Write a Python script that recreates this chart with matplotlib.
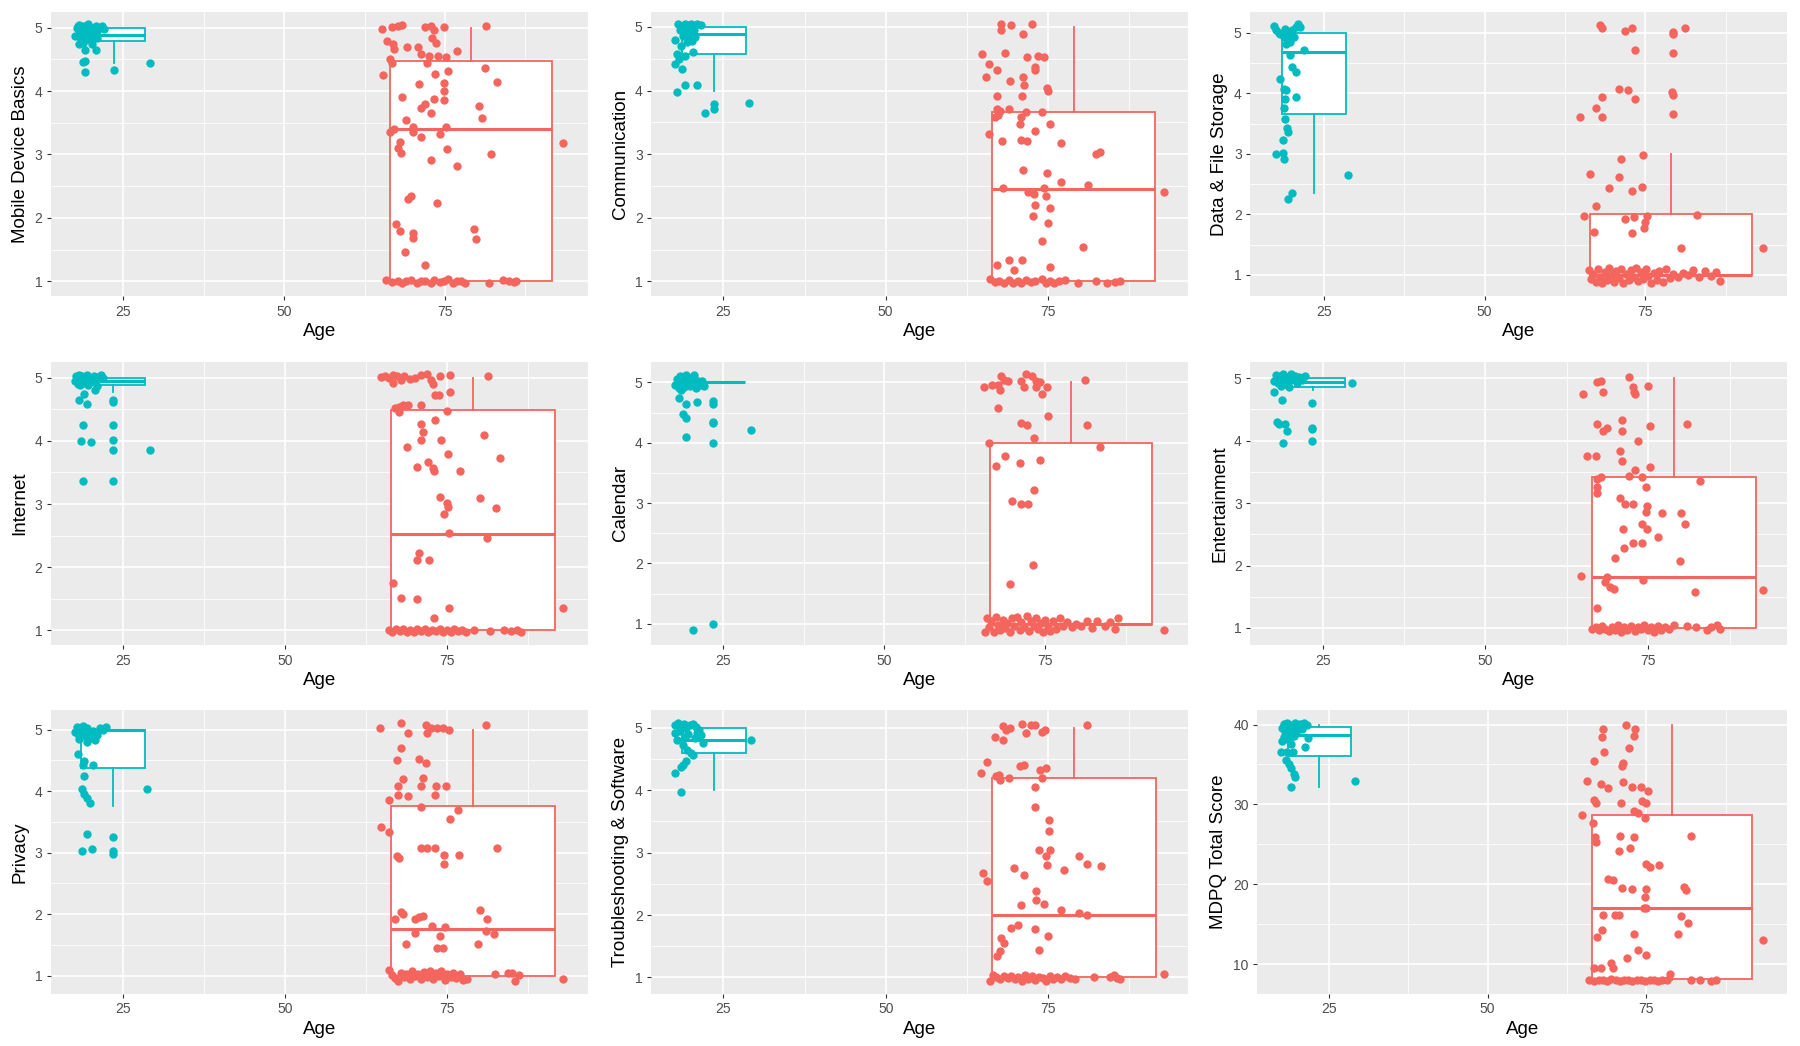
import matplotlib.pyplot as plt
from matplotlib.ticker import MultipleLocator

plt.rcParams['font.family'] = ['Liberation Sans', 'DejaVu Sans']

TEAL = '#00BCC0'
RED = '#F4655E'

# age span of each group (raw ages, before jitter) -> box position / width like ggplot
young_ages = (18, 29)
old_ages = (65, 93)

# box stats: whislo, q1, median, q3, whishi
mobile_box_young = [4.45, 4.79, 4.88, 5.0, 5.0]
mobile_box_old = [1.0, 1.0, 3.40, 4.47, 5.0]
comm_box_young = [4.0, 4.58, 4.89, 5.0, 5.0]
comm_box_old = [1.0, 1.0, 2.45, 3.66, 5.0]
data_box_young = [2.35, 3.66, 4.68, 5.0, 5.0]
data_box_old = [1.0, 1.0, 1.0, 2.0, 3.0]
internet_box_young = [4.78, 4.88, 4.95, 5.0, 5.0]
internet_box_old = [1.0, 1.0, 2.52, 4.49, 5.0]
calendar_box_young = [5.0, 5.0, 5.0, 5.0, 5.0]
calendar_box_old = [1.0, 1.0, 1.0, 4.0, 5.0]
entertain_box_young = [4.81, 4.86, 4.94, 5.0, 5.0]
entertain_box_old = [1.0, 1.0, 1.81, 3.41, 5.0]
privacy_box_young = [3.76, 4.38, 5.0, 5.0, 5.0]
privacy_box_old = [1.0, 1.0, 1.76, 3.76, 5.0]
trouble_box_young = [4.0, 4.59, 4.80, 5.0, 5.0]
trouble_box_old = [1.0, 1.0, 2.0, 4.19, 5.0]
mdpq_box_young = [32.2, 36.0, 38.7, 39.7, 40.0]
mdpq_box_old = [8.0, 8.2, 17.0, 28.7, 40.0]

# jittered points (age, score)
mobile_young = [
    (17.5, 4.87), (17.8, 5.00), (18.1, 5.04), (18.4, 4.95), (18.7, 5.03), (19.0, 4.90), (19.3, 4.97),
    (19.6, 5.05), (19.9, 4.92), (20.2, 5.00), (20.4, 4.87), (20.7, 5.03), (21.0, 4.95), (21.5, 5.01),
    (21.7, 5.03), (18.1, 4.74), (18.7, 4.76), (19.1, 4.64), (20.7, 4.64), (20.2, 4.74), (18.4, 4.80),
    (19.6, 4.82), (18.8, 4.46), (19.1, 4.47), (19.0, 4.30), (23.5, 4.33), (29.2, 4.44), (18.1, 4.90),
    (19.7, 4.90), (20.9, 4.84), (22.0, 4.98), (18.0, 5.02), (19.4, 4.99), (20.5, 4.96)]
mobile_old = [
    (65.2, 4.98), (66.7, 5.01), (67.7, 5.03), (68.3, 5.04), (71.9, 5.01), (72.8, 5.03), (73.3, 4.97),
    (74.8, 5.01), (81.3, 5.03), (66.0, 4.79), (67.0, 4.74), (67.1, 4.66), (69.1, 4.69), (70.8, 4.69),
    (71.3, 4.58), (72.5, 4.55), (73.0, 4.84), (73.6, 4.76), (75.1, 4.53), (76.9, 4.63), (66.5, 4.50),
    (66.7, 4.45), (72.2, 4.45), (73.9, 4.55), (75.4, 4.32), (65.4, 4.25), (73.5, 4.27), (81.2, 4.37),
    (83.1, 4.14), (68.3, 3.91), (71.0, 4.11), (71.3, 3.74), (71.9, 3.79), (72.8, 3.65), (73.3, 3.87),
    (74.8, 4.13), (74.8, 4.00), (74.8, 3.86), (80.3, 3.76), (80.8, 3.58), (69.0, 3.55), (66.5, 3.36),
    (67.1, 3.40), (70.1, 3.43), (70.1, 3.35), (71.2, 3.27), (74.2, 3.32), (75.1, 3.44), (68.0, 3.19),
    (67.7, 3.11), (68.2, 3.02), (72.9, 2.91), (75.3, 3.09), (82.2, 3.01), (76.9, 2.82), (93.4, 3.18),
    (69.2, 2.30), (69.8, 2.35), (73.8, 2.24), (67.4, 1.90), (68.0, 1.80), (70.0, 1.76), (70.1, 1.68),
    (68.8, 1.46), (71.9, 1.25), (79.5, 1.82), (79.8, 1.66),
    (65.8, 1.02), (66.7, 0.99), (67.7, 1.01), (68.3, 0.97), (68.9, 1.00), (69.8, 1.02), (70.7, 0.98),
    (71.3, 1.00), (71.9, 1.01), (72.8, 0.97), (73.3, 1.02), (74.2, 0.99), (74.8, 1.00), (75.4, 1.03),
    (76.3, 0.98), (76.9, 1.00), (77.5, 1.01), (78.1, 0.97), (81.9, 0.98), (84.0, 1.02), (84.9, 1.00),
    (85.8, 0.99), (86.1, 1.01)]

comm_young = [
    (18.0, 5.04), (18.5, 5.02), (19.0, 5.04), (19.5, 5.03), (20.0, 5.04), (20.5, 5.02), (21.0, 5.04),
    (21.6, 5.03), (18.3, 4.95), (19.2, 4.93), (19.8, 4.90), (20.4, 4.95), (18.8, 4.86), (19.6, 4.82),
    (20.2, 4.78), (17.6, 4.79), (20.6, 4.84), (19.9, 4.97), (18.4, 4.70), (19.4, 4.76), (17.9, 4.58),
    (17.6, 4.42), (18.2, 4.50), (18.6, 4.34), (19.1, 4.55), (20.3, 4.61), (17.9, 3.97), (19.0, 4.09),
    (20.9, 4.08), (22.1, 3.64), (23.5, 3.71), (23.5, 3.79), (29.0, 3.81)]
comm_old = [
    (67.8, 5.04), (67.8, 4.95), (69.4, 5.03), (71.2, 4.89), (72.5, 5.04), (64.8, 4.57), (66.0, 4.42),
    (67.2, 4.33), (68.4, 4.59), (65.5, 4.22), (69.2, 4.15), (71.2, 4.22), (71.4, 4.09), (71.8, 4.53),
    (73.0, 4.32), (73.0, 4.37), (73.5, 4.55), (74.4, 4.53), (74.9, 4.04), (75.1, 3.99), (67.2, 3.92),
    (71.0, 3.92), (67.1, 3.71), (67.6, 3.68), (69.0, 3.71), (66.8, 3.58), (67.4, 3.61), (70.9, 3.58),
    (71.6, 3.66), (74.1, 3.66), (70.7, 3.47), (75.3, 3.47), (65.9, 3.32), (73.1, 3.36), (67.9, 3.20),
    (70.9, 3.22), (71.8, 3.20), (77.1, 3.18), (82.4, 3.00), (83.1, 3.04), (71.2, 2.75), (74.9, 2.70),
    (77.1, 2.56), (68.1, 2.47), (71.9, 2.41), (72.9, 2.38), (74.4, 2.47), (74.7, 2.34), (81.2, 2.52),
    (92.9, 2.41), (73.1, 2.20), (75.3, 2.15), (72.8, 2.03), (75.1, 1.91), (74.1, 1.64), (80.4, 1.54),
    (67.1, 1.25), (69.0, 1.34), (69.8, 1.18), (71.1, 1.34), (75.3, 1.22),
    (66.1, 1.03), (66.8, 0.99), (67.5, 1.01), (68.2, 0.97), (69.0, 1.02), (69.7, 0.98), (70.4, 1.00),
    (70.9, 0.97), (71.6, 1.02), (72.4, 0.99), (73.1, 1.00), (74.1, 1.03), (74.7, 0.98), (75.3, 1.01),
    (75.9, 0.97), (76.8, 1.00), (77.6, 1.02), (79.7, 0.98), (82.4, 1.00), (84.1, 0.97), (85.3, 0.99),
    (86.2, 1.00)]

data_young = [
    (17.3, 5.12), (17.6, 5.04), (18.2, 4.98), (18.8, 4.93), (19.4, 4.96), (20.0, 5.04), (20.6, 5.09),
    (20.9, 5.14), (20.3, 4.93), (19.7, 4.85), (19.1, 4.82), (21.9, 4.72), (19.7, 4.63), (20.0, 4.43),
    (20.6, 4.35), (18.2, 4.23), (18.8, 4.08), (19.1, 4.05), (20.7, 3.94), (19.0, 3.91), (18.8, 3.75),
    (19.0, 3.58), (19.2, 3.42), (19.4, 3.36), (18.6, 3.23), (17.6, 2.99), (18.6, 3.02), (18.8, 2.92),
    (20.0, 2.36), (19.4, 2.25), (28.8, 2.65), (19.0, 5.06), (21.3, 5.10), (18.0, 5.00)]
data_old = [
    (67.9, 5.13), (68.3, 5.08), (71.9, 5.03), (73.0, 5.08), (79.3, 5.01), (79.3, 4.98), (81.2, 5.08),
    (73.4, 4.72), (79.3, 4.67), (70.9, 4.08), (72.3, 4.05), (68.3, 3.94), (73.4, 3.90), (79.1, 4.02),
    (79.3, 3.98), (64.8, 3.61), (67.4, 3.76), (68.2, 3.61), (79.3, 3.66), (74.7, 2.98), (71.2, 2.92),
    (66.4, 2.66), (70.9, 2.62), (69.3, 2.43), (72.9, 2.38), (74.5, 2.46), (67.3, 2.13), (65.4, 1.97),
    (71.9, 1.93), (73.2, 1.96), (74.9, 1.88), (75.3, 1.97), (83.0, 1.99), (67.0, 1.71), (73.0, 1.69),
    (74.8, 1.77), (80.6, 1.44), (93.3, 1.45),
    (66.2, 1.08), (66.5, 0.93), (66.9, 1.02), (67.3, 0.88), (67.6, 1.10), (68.0, 0.97), (68.3, 0.86),
    (68.7, 1.05), (69.0, 0.92), (69.4, 1.12), (69.8, 0.99), (70.2, 0.88), (70.5, 1.06), (70.9, 0.94),
    (71.2, 1.10), (71.6, 0.86), (72.0, 1.01), (72.4, 0.92), (72.8, 1.08), (73.2, 0.97), (73.5, 1.12),
    (73.9, 0.89), (74.3, 1.04), (74.7, 0.93), (75.1, 1.09), (75.5, 0.98), (75.9, 0.87), (76.3, 1.03),
    (76.8, 0.91), (77.2, 1.06), (77.7, 0.88), (78.2, 1.10), (78.8, 0.95), (79.3, 1.02), (80.1, 0.96),
    (80.8, 1.03), (81.7, 0.99), (82.5, 1.08), (83.4, 0.97), (84.3, 1.06), (85.2, 0.98), (86.0, 1.04),
    (86.7, 0.90)]

internet_young = [
    (17.6, 4.95), (17.8, 5.02), (18.0, 4.90), (18.2, 5.04), (18.5, 4.97), (18.7, 5.03), (18.9, 4.92),
    (19.1, 5.01), (19.3, 4.96), (19.5, 5.04), (19.8, 4.93), (20.0, 5.00), (20.3, 4.97), (20.6, 5.03),
    (20.9, 4.94), (21.2, 5.01), (21.6, 5.04), (22.0, 4.99), (18.4, 4.88), (19.6, 4.89), (19.0, 4.74),
    (20.7, 4.81), (21.0, 4.86), (18.2, 4.64), (19.4, 4.59), (23.5, 4.64), (23.5, 4.62), (18.8, 4.25),
    (23.5, 4.25), (18.6, 3.99), (20.1, 3.98), (23.5, 4.02), (23.5, 3.86), (29.2, 3.85), (18.9, 3.37),
    (23.5, 3.37)]
internet_old = [
    (64.8, 5.01), (65.4, 5.03), (66.0, 4.99), (66.6, 5.04), (67.2, 5.02), (67.8, 4.97), (68.4, 5.03),
    (69.3, 4.98), (70.1, 5.00), (71.0, 5.04), (71.9, 5.05), (72.5, 4.96), (73.9, 5.03), (75.4, 5.04),
    (81.3, 5.03), (66.6, 4.92), (72.8, 4.90), (73.1, 4.73), (73.7, 4.73), (75.4, 4.78), (66.9, 4.52),
    (67.5, 4.54), (68.1, 4.57), (68.9, 4.57), (70.9, 4.57), (67.5, 4.46), (75.0, 4.47), (73.1, 4.33),
    (70.9, 4.26), (71.3, 4.14), (70.9, 4.02), (74.1, 4.02), (80.7, 4.09), (68.8, 3.91), (75.1, 3.79),
    (83.1, 3.73), (70.3, 3.59), (72.1, 3.66), (72.8, 3.57), (72.9, 3.53), (76.9, 3.53), (73.9, 3.11),
    (75.0, 3.02), (75.1, 2.96), (74.5, 2.84), (80.1, 3.09), (82.5, 2.93), (75.2, 2.54), (81.1, 2.46),
    (70.7, 2.23), (70.3, 2.11), (72.2, 2.11), (66.6, 1.75), (67.8, 1.52), (70.4, 1.50), (75.2, 1.36),
    (72.9, 1.20), (92.9, 1.36),
    (66.0, 1.01), (66.5, 0.97), (67.1, 1.02), (67.7, 0.99), (68.2, 1.03), (68.8, 0.97), (69.3, 1.00),
    (69.9, 0.98), (70.4, 1.02), (71.0, 0.99), (71.5, 1.03), (72.1, 0.97), (72.7, 1.01), (73.3, 0.99),
    (73.9, 1.02), (74.4, 0.97), (75.0, 1.01), (75.5, 0.98), (76.1, 1.02), (76.7, 0.99), (77.3, 1.01),
    (77.9, 0.98), (79.1, 1.00), (81.6, 0.99), (83.8, 1.01), (84.9, 0.99), (85.7, 1.00), (86.3, 0.98)]

calendar_young = [
    (17.6, 4.95), (17.9, 5.05), (18.1, 4.90), (18.3, 5.10), (18.6, 4.98), (18.8, 5.06), (19.0, 4.92),
    (19.3, 5.12), (19.5, 5.00), (19.8, 4.94), (20.0, 5.08), (20.3, 4.97), (20.5, 5.12), (20.8, 4.91),
    (21.1, 5.03), (21.4, 4.96), (21.8, 5.02), (22.1, 4.94), (18.4, 4.88), (19.6, 5.04), (18.2, 4.74),
    (19.2, 4.64), (20.9, 4.68), (18.7, 4.47), (19.2, 4.41), (23.5, 4.69), (23.5, 4.64), (23.5, 4.35),
    (23.5, 4.32), (19.2, 4.10), (23.5, 4.00), (29.3, 4.21), (23.5, 1.00), (20.3, 0.90)]
calendar_old = [
    (65.5, 4.92), (66.8, 4.95), (67.7, 4.96), (68.2, 5.11), (68.6, 5.04), (69.2, 5.03), (67.9, 4.88),
    (71.2, 5.03), (72.0, 5.13), (73.0, 5.10), (73.5, 5.02), (74.2, 5.01), (71.7, 4.92), (73.5, 4.92),
    (75.3, 4.92), (74.5, 4.80), (81.2, 5.04), (67.6, 4.57), (75.4, 4.44), (71.3, 4.32), (72.2, 4.29),
    (81.4, 4.30), (73.3, 4.07), (66.3, 4.00), (83.5, 3.93), (68.8, 3.78), (71.0, 3.66), (74.1, 3.71),
    (67.3, 3.61), (73.2, 3.21), (69.8, 3.04), (71.2, 2.98), (72.3, 2.98), (73.1, 1.98), (69.5, 1.66),
    (93.4, 0.90),
    (65.6, 0.87), (65.9, 1.10), (66.3, 0.95), (66.6, 1.04), (67.0, 0.86), (67.3, 1.12), (67.7, 0.98),
    (68.0, 0.89), (68.4, 1.06), (68.8, 0.93), (69.1, 1.02), (69.5, 0.86), (69.9, 1.09), (70.2, 0.96),
    (70.6, 1.11), (71.0, 0.90), (71.3, 1.03), (71.7, 0.94), (72.1, 1.13), (72.4, 0.88), (72.8, 1.05),
    (73.2, 0.97), (73.5, 1.10), (73.9, 0.91), (74.3, 1.02), (74.7, 0.86), (75.0, 1.07), (75.4, 0.95),
    (75.8, 0.88), (76.2, 1.04), (76.7, 0.92), (77.3, 1.09), (77.8, 0.97), (78.4, 1.03), (79.1, 0.94),
    (79.8, 1.00), (80.6, 0.96), (81.5, 1.04), (82.3, 0.93), (83.0, 1.05), (84.2, 0.97), (85.1, 1.03),
    (85.8, 0.91), (86.3, 1.10)]

entertain_young = [
    (17.6, 4.95), (17.9, 5.05), (18.1, 4.92), (18.4, 5.03), (18.7, 4.97), (18.9, 5.06), (19.2, 4.91),
    (19.5, 5.02), (19.8, 4.95), (20.1, 5.06), (20.4, 4.98), (20.7, 5.04), (21.0, 4.93), (21.4, 5.02),
    (21.8, 4.97), (22.3, 5.03), (18.6, 4.87), (19.9, 4.86), (17.6, 4.78), (18.7, 4.65), (29.5, 4.92),
    (23.4, 4.60), (18.0, 4.30), (19.3, 4.27), (19.5, 4.15), (18.9, 3.96), (23.4, 4.21), (23.4, 4.18),
    (23.4, 4.00), (18.3, 4.26)]
entertain_old = [
    (72.1, 5.02), (67.1, 4.94), (67.7, 4.95), (72.7, 4.86), (75.0, 4.87), (65.0, 4.75), (68.0, 4.78),
    (72.8, 4.78), (73.0, 4.74), (67.1, 4.26), (68.0, 4.16), (68.7, 4.20), (70.9, 4.33), (70.9, 4.15),
    (75.3, 4.24), (81.0, 4.26), (73.4, 3.99), (70.7, 3.84), (65.6, 3.75), (66.9, 3.75), (70.9, 3.67),
    (75.2, 3.58), (67.1, 3.39), (67.7, 3.41), (72.1, 3.44), (73.0, 3.53), (74.1, 3.41), (82.9, 3.36),
    (67.1, 3.25), (67.1, 3.16), (74.7, 3.25), (70.7, 3.08), (71.5, 2.98), (72.7, 2.98), (74.8, 2.96),
    (74.7, 2.85), (77.1, 2.84), (80.1, 2.84), (80.7, 2.67), (74.0, 2.67), (74.8, 2.59), (71.1, 2.58),
    (76.5, 2.45), (72.7, 2.36), (74.1, 2.36), (71.2, 2.28), (69.9, 2.12), (79.9, 2.08), (64.6, 1.84),
    (68.7, 1.82), (68.3, 1.73), (69.1, 1.65), (69.7, 1.62), (74.2, 1.77), (82.2, 1.57), (92.6, 1.61),
    (67.1, 1.32),
    (66.4, 0.98), (66.9, 1.02), (67.4, 0.96), (67.9, 1.03), (68.4, 0.99), (68.9, 0.95), (69.4, 1.02),
    (69.9, 0.97), (70.4, 1.04), (70.8, 0.94), (71.3, 1.01), (71.8, 0.97), (72.3, 1.03), (72.9, 0.95),
    (73.4, 1.02), (73.9, 0.98), (74.4, 1.04), (74.9, 0.96), (75.4, 1.01), (75.9, 0.93), (76.5, 1.03),
    (77.0, 0.97), (77.6, 1.02), (78.2, 0.99), (79.0, 1.04), (81.0, 1.03), (82.3, 1.02), (84.0, 0.97),
    (84.7, 1.01), (85.6, 1.04), (86.0, 0.98)]

privacy_young = [
    (17.6, 4.97), (17.9, 5.04), (18.1, 4.93), (18.4, 5.02), (18.7, 4.96), (18.9, 5.06), (19.2, 4.90),
    (19.5, 5.03), (19.8, 4.95), (20.1, 4.86), (20.4, 4.98), (20.7, 4.83), (21.0, 4.92), (21.5, 5.03),
    (22.0, 4.99), (22.4, 5.05), (18.3, 4.85), (19.4, 4.80), (18.0, 4.61), (19.0, 4.49), (18.8, 4.43),
    (20.4, 4.43), (19.0, 4.24), (18.7, 4.03), (19.0, 3.95), (19.4, 3.89), (19.9, 3.81), (28.7, 4.03),
    (19.4, 3.30), (23.5, 3.25), (18.7, 3.02), (20.2, 3.06), (23.5, 3.02), (23.5, 2.98)]
privacy_old = [
    (64.7, 5.03), (67.8, 5.11), (69.0, 4.95), (71.7, 5.08), (71.9, 4.95), (72.5, 5.03), (73.4, 5.03),
    (74.3, 5.02), (75.2, 5.00), (81.0, 5.08), (67.8, 4.71), (67.2, 4.51), (70.7, 4.53), (71.7, 4.46),
    (68.1, 4.19), (67.4, 4.08), (70.9, 4.08), (71.3, 4.21), (73.2, 4.08), (74.8, 4.08), (67.4, 3.94),
    (69.0, 3.92), (73.1, 3.94), (66.0, 3.85), (71.0, 3.74), (76.6, 3.69), (75.4, 3.54), (64.8, 3.42),
    (66.0, 3.34), (71.0, 3.08), (71.9, 3.08), (73.1, 3.08), (67.2, 2.95), (67.5, 2.91), (74.5, 2.96),
    (76.8, 2.96), (74.5, 2.81), (82.7, 3.08), (67.8, 2.04), (68.2, 2.01), (66.9, 1.92), (70.1, 1.92),
    (70.7, 1.95), (71.3, 1.97), (80.1, 2.06), (81.1, 1.92), (72.6, 1.81), (74.6, 1.79), (70.1, 1.70),
    (73.9, 1.65), (81.0, 1.73), (82.2, 1.68), (68.7, 1.51), (73.4, 1.45), (74.4, 1.45), (79.8, 1.51),
    (92.9, 0.95),
    (66.0, 1.09), (66.5, 1.01), (67.0, 0.96), (67.4, 0.92), (67.8, 1.04), (68.3, 0.97), (68.7, 1.02),
    (69.2, 0.95), (69.6, 1.07), (70.1, 0.99), (70.5, 1.03), (71.0, 0.94), (71.4, 1.06), (71.9, 0.98),
    (72.3, 1.08), (72.8, 0.95), (73.2, 1.04), (73.7, 0.99), (74.1, 1.07), (74.6, 0.93), (75.0, 1.03),
    (75.5, 0.97), (75.9, 1.05), (76.4, 0.96), (76.9, 1.02), (77.4, 0.93), (78.0, 0.94), (82.4, 1.02),
    (84.3, 1.04), (85.0, 1.05), (85.5, 0.91), (86.0, 1.01)]

trouble_young = [
    (17.6, 5.04), (18.0, 5.08), (18.5, 5.02), (18.9, 5.06), (19.3, 5.00), (19.8, 5.05), (20.3, 5.07),
    (20.8, 5.01), (21.2, 4.96), (17.6, 4.92), (17.9, 4.81), (18.8, 4.73), (19.4, 4.65), (20.0, 4.60),
    (20.3, 4.57), (18.8, 4.41), (19.2, 4.47), (18.5, 4.37), (17.6, 4.28), (18.5, 3.98), (21.6, 4.89),
    (21.8, 4.76), (29.2, 4.81), (20.6, 4.84), (18.3, 4.95), (19.6, 4.90), (20.9, 4.92), (19.0, 4.86)]
trouble_old = [
    (66.8, 4.85), (68.0, 5.03), (68.5, 4.97), (69.1, 5.00), (68.1, 4.80), (70.9, 5.06), (71.6, 4.92),
    (72.4, 5.04), (72.9, 5.04), (74.1, 4.94), (74.5, 4.97), (81.0, 5.04), (65.6, 4.46), (64.7, 4.28),
    (66.9, 4.23), (67.4, 4.25), (67.6, 4.16), (69.0, 4.19), (70.6, 4.39), (71.2, 4.40), (73.7, 4.33),
    (74.7, 4.35), (74.1, 4.20), (72.9, 4.05), (72.9, 3.73), (75.1, 3.53), (75.1, 3.34), (75.3, 3.05),
    (73.5, 3.04), (74.7, 2.95), (74.8, 2.80), (77.5, 2.73), (79.8, 2.95), (80.9, 2.82), (83.1, 2.79),
    (69.7, 2.76), (71.2, 2.64), (65.0, 2.68), (65.6, 2.55), (73.1, 2.38), (73.1, 2.24), (74.4, 2.18),
    (70.8, 2.16), (76.9, 2.08), (79.7, 2.04), (81.0, 2.00), (69.3, 1.79), (70.4, 1.84), (72.9, 1.77),
    (75.0, 1.67), (67.8, 1.64), (68.2, 1.56), (67.1, 1.35), (67.6, 1.43), (73.5, 1.44), (92.8, 1.05),
    (66.1, 0.95),
    (66.5, 1.04), (67.0, 1.01), (67.6, 0.98), (68.2, 1.02), (68.8, 0.99), (69.3, 1.03), (69.9, 0.97),
    (70.4, 1.01), (70.9, 0.95), (71.4, 1.04), (71.9, 0.98), (72.5, 1.02), (73.0, 0.96), (73.6, 1.01),
    (74.2, 0.99), (74.7, 0.94), (75.3, 1.02), (75.8, 0.98), (76.4, 1.01), (77.0, 0.97), (77.6, 1.02),
    (78.3, 0.99), (79.1, 0.97), (82.1, 1.00), (84.5, 1.01), (85.1, 1.04), (85.6, 0.99), (86.1, 0.98)]

mdpq_young = [
    (17.6, 39.6), (17.9, 40.1), (18.1, 39.2), (18.4, 40.2), (18.6, 39.8), (18.9, 38.9), (19.1, 40.0),
    (19.4, 39.5), (19.7, 40.2), (19.9, 39.0), (20.2, 39.8), (20.5, 40.1), (20.8, 39.4), (21.1, 40.2),
    (21.5, 39.9), (18.0, 38.4), (18.8, 38.1), (19.6, 38.6), (18.1, 38.7), (17.7, 37.9), (19.0, 37.6),
    (21.3, 37.2), (21.7, 38.3), (17.5, 36.6), (18.4, 36.5), (19.3, 36.6), (18.3, 35.5), (18.7, 35.0),
    (19.0, 34.6), (19.6, 33.8), (19.7, 33.4), (19.0, 32.2), (29.2, 32.9)]
mdpq_old = [
    (71.8, 40.0), (68.2, 39.4), (68.0, 38.5), (73.2, 39.4), (73.1, 38.6), (72.2, 37.1), (68.3, 36.6),
    (66.8, 35.4), (71.4, 35.2), (71.2, 34.8), (65.6, 32.9), (67.8, 32.5), (69.0, 32.0), (71.3, 32.8),
    (72.8, 32.2), (74.2, 32.2), (75.2, 31.7), (66.8, 30.6), (67.1, 30.2), (71.0, 30.2), (74.3, 30.4),
    (75.0, 30.2), (73.1, 29.2), (73.7, 28.9), (64.9, 28.7), (74.8, 28.3), (66.6, 27.7), (66.9, 25.9),
    (67.1, 25.3), (70.8, 26.0), (73.0, 25.9), (72.4, 24.6), (70.7, 24.2), (82.0, 26.1), (75.0, 22.6),
    (75.6, 22.2), (77.0, 22.4), (68.9, 20.7), (69.8, 20.5), (71.2, 19.5), (72.8, 19.4), (74.9, 19.4),
    (74.8, 18.4), (74.6, 17.0), (75.0, 17.0), (81.0, 19.7), (81.2, 19.3), (68.2, 16.2), (70.1, 16.2),
    (70.7, 16.2), (80.4, 16.0), (81.6, 15.2), (68.0, 14.3), (67.2, 13.4), (73.1, 13.8), (80.0, 13.8),
    (73.7, 11.8), (75.0, 11.2), (72.0, 10.8), (69.4, 10.2), (66.7, 9.5), (67.8, 9.5), (69.8, 9.5),
    (78.8, 8.8), (93.4, 13.0),
    (66.0, 8.0), (66.8, 7.9), (67.5, 8.1), (68.2, 8.0), (68.8, 7.9), (69.5, 8.2), (70.2, 8.0),
    (70.8, 7.9), (71.5, 8.1), (72.1, 8.0), (72.8, 7.9), (73.5, 8.0), (74.2, 8.1), (74.8, 7.9),
    (75.5, 8.0), (76.2, 8.0), (76.8, 7.9), (77.5, 8.1), (78.2, 8.0), (82.0, 8.0), (83.5, 8.0),
    (85.2, 7.9), (86.0, 8.0)]

panels = [
    ("Mobile Device Basics", mobile_young, mobile_old, mobile_box_young, mobile_box_old),
    ("Communication", comm_young, comm_old, comm_box_young, comm_box_old),
    ("Data & File Storage", data_young, data_old, data_box_young, data_box_old),
    ("Internet", internet_young, internet_old, internet_box_young, internet_box_old),
    ("Calendar", calendar_young, calendar_old, calendar_box_young, calendar_box_old),
    ("Entertainment", entertain_young, entertain_old, entertain_box_young, entertain_box_old),
    ("Privacy", privacy_young, privacy_old, privacy_box_young, privacy_box_old),
    ("Troubleshooting & Software", trouble_young, trouble_old, trouble_box_young, trouble_box_old),
    ("MDPQ Total Score", mdpq_young, mdpq_old, mdpq_box_young, mdpq_box_old),
]

W, H = 1800, 1046
fig = plt.figure(figsize=(W / 100, H / 100), dpi=100)

col_left = [50.5, 651, 1250]
row_top = [11.5, 361.6, 710.0]
row_bottom = [296.2, 645.2, 994.1]
panel_w = 537.3

for i, (label, young, old, box_y, box_o) in enumerate(panels):
    r, c = divmod(i, 3)
    left, width = col_left[c], panel_w
    if label == "MDPQ Total Score":
        left, width = 1257, panel_w - 7
    ax = fig.add_axes([left / W, 1 - row_bottom[r] / H, width / W, (row_bottom[r] - row_top[r]) / H])
    ax.set_facecolor('#EBEBEB')
    for s in ax.spines.values():
        s.set_visible(False)

    for pts, box, color, span in ((young, box_y, TEAL, young_ages), (old, box_o, RED, old_ages)):
        lo, q1, med, q3, hi = box
        stats = [dict(whislo=lo, q1=q1, med=med, q3=q3, whishi=hi, fliers=[])]
        ax.bxp(stats, positions=[(span[0] + span[1]) / 2], widths=[0.9 * (span[1] - span[0])],
               patch_artist=True, showcaps=False, showfliers=False, manage_ticks=False,
               boxprops=dict(facecolor='white', edgecolor=color, lw=1.3),
               medianprops=dict(color=color, lw=2.2),
               whiskerprops=dict(color=color, lw=1.3), zorder=2)
        ax.scatter([p[0] for p in pts], [p[1] for p in pts], s=36, color=color, lw=0, zorder=3)

    ax.margins(x=0.05, y=0.05)
    ax.autoscale_view()

    ax.xaxis.set_major_locator(MultipleLocator(25))
    ax.xaxis.set_minor_locator(MultipleLocator(12.5))
    if label == "MDPQ Total Score":
        ax.yaxis.set_major_locator(MultipleLocator(10))
        ax.yaxis.set_minor_locator(MultipleLocator(5))
    else:
        ax.yaxis.set_major_locator(MultipleLocator(1))
        ax.yaxis.set_minor_locator(MultipleLocator(0.5))
    ax.grid(which='major', color='white', lw=1.2)
    ax.grid(which='minor', color='white', lw=0.6)
    ax.set_axisbelow(True)
    ax.tick_params(which='major', length=3, width=0.8, color='#333333',
                   labelcolor='#4D4D4D', labelsize=10, pad=3)
    ax.tick_params(which='minor', length=0)
    ax.set_xlabel("Age", fontsize=13.5, labelpad=3)
    ax.set_ylabel(label, fontsize=13.5, labelpad=4)

fig.savefig('out.png', dpi=100)
